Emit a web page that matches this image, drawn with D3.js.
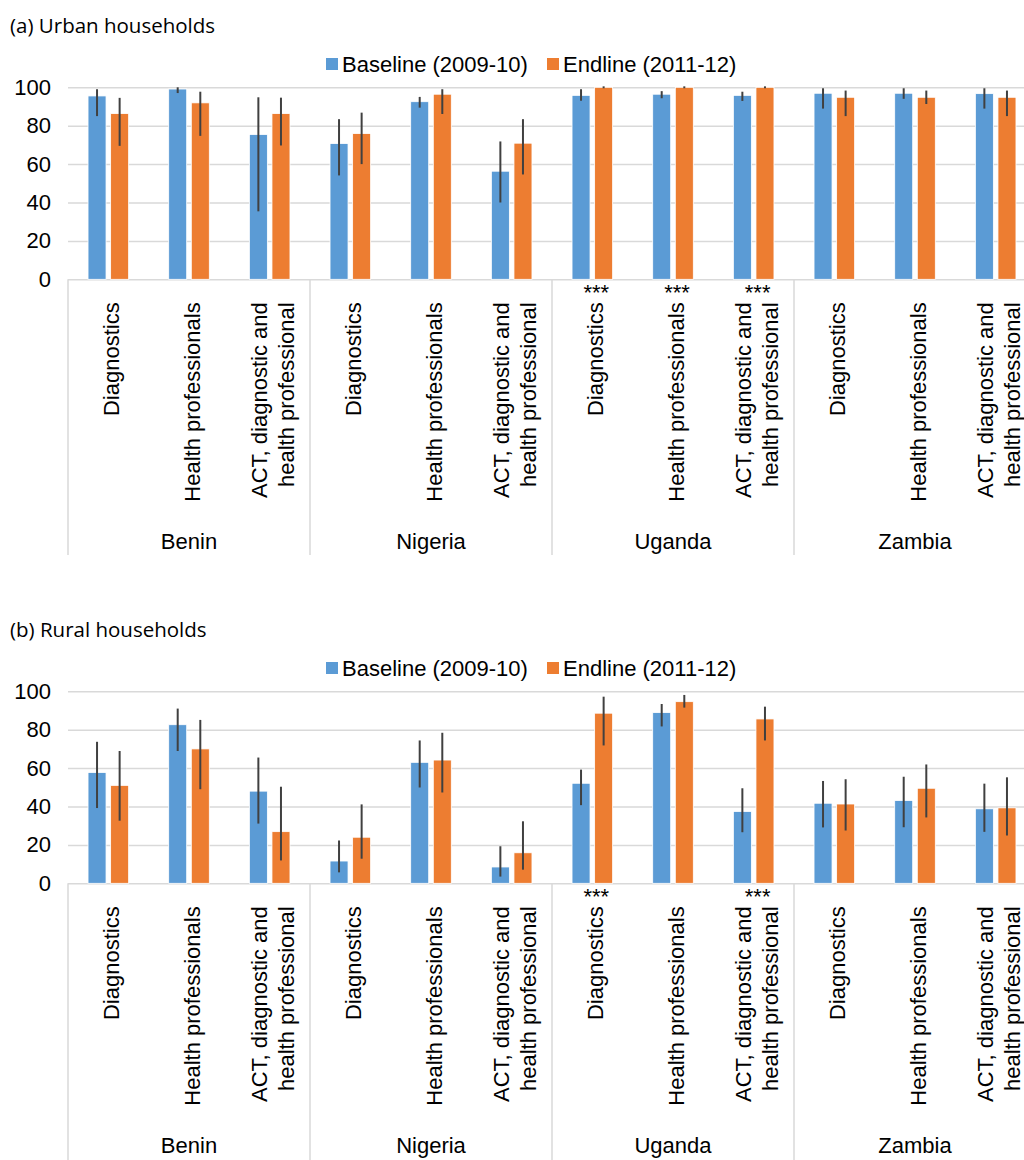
<!DOCTYPE html>
<html>
<head>
<meta charset="utf-8">
<script src="https://cdn.jsdelivr.net/npm/d3@7"></script>
<style>
  body { margin: 0; background: #fff; }
  svg { display: block; font-family: 'Liberation Sans', Arial, sans-serif; }
</style>
</head>
<body>
<svg class="chart"></svg>
<script>
// categories
const countries = ['Benin', 'Nigeria', 'Uganda', 'Zambia'];
const indicators = ['Diagnostics', 'Health professionals', 'ACT, diagnostic and health professional'];
const indicatorLines = [['Diagnostics'], ['Health professionals'], ['ACT, diagnostic and', 'health professional']];
const seriesNames = ['Baseline (2009-10)', 'Endline (2011-12)'];
const yTicks = [0, 20, 40, 60, 80, 100];

// (a) urban households, country x indicator order
const urbanBaseline = [95.5, 99.1, 75.4, 70.7, 92.5, 56.3, 95.8, 96.4, 95.8, 96.9, 96.9, 96.7];
const urbanBaselineCI = [[85, 99], [97, 100], [35.4, 94.8], [54.1, 83.4], [89.4, 95], [40, 71.8],
    [93, 99], [94.3, 98], [92.9, 97.7], [88.9, 99.5], [94, 99.5], [88.9, 99.5]];
const urbanEndline = [86.3, 91.9, 86.3, 75.9, 96.4, 70.9, 100, 100, 100, 94.8, 94.8, 94.8];
const urbanEndlineCI = [[69.5, 94.5], [74.7, 97.7], [69.7, 94.6], [60, 86.8], [86.1, 99], [54.6, 83.4],
    [99.5, 100.5], [99.5, 100.5], [99.5, 100.5], [85, 98.3], [91.3, 98.3], [85, 98.3]];
const urbanSig = ['', '', '', '', '', '', '***', '***', '***', '', '', ''];

// (b) rural households
const ruralBaseline = [57.7, 82.6, 48, 11.6, 63, 8.5, 52.1, 88.9, 37.4, 41.7, 43.1, 38.8];
const ruralBaselineCI = [[39.2, 73.7], [68.9, 91], [31.1, 65.5], [5.7, 22.3], [49.9, 74.4], [3.5, 19.3],
    [40.7, 59.2], [81.7, 93.4], [26.6, 49.5], [29.1, 53.3], [29.2, 55.5], [26.8, 51.9]];
const ruralEndline = [51, 70, 26.9, 24, 64.2, 15.9, 88.6, 94.6, 85.6, 41.3, 49.5, 39.3];
const ruralEndlineCI = [[32.6, 68.9], [49, 85.1], [11.9, 50.3], [12.8, 41.1], [47.3, 78.4], [7.1, 32.3],
    [71.8, 97.2], [91.5, 98.1], [74.4, 92], [27.5, 54.2], [34.3, 61.9], [24.9, 55.2]];
const ruralSig = ['', '', '', '', '', '', '***', '', '***', '', '', ''];

const width = 1024;
const height = 1160;
const colors = ['#5b9bd5', '#ed7d31'];
const gridColor = '#d9d9d9';

const marginLeft = 68;
const plotRight = 1036; // chart runs past the right edge of the picture
const panelShift = 604;

const svg = d3.select('.chart')
    .attr('width', width)
    .attr('height', height)
    .attr('viewBox', [0, 0, width, height]);

// countries, then the three indicators inside each country
const xCountry = d3.scaleBand().domain(countries).range([marginLeft, plotRight]);
const xIndicator = d3.scaleBand().domain(indicators).range([0, xCountry.bandwidth()]);
const y = d3.scaleLinear().domain([0, 100]).range([279.3, 87.3]);

const barWidth = 18;
const barOffset = 11.3;
const catCenter = i => xCountry(countries[Math.floor(i / 3)]) + xIndicator(indicators[i % 3]) + xIndicator.bandwidth() / 2;

function drawPanel(top, title, series, cis, sig, labelBottom, sepBottom) {
    const g = svg.append('g').attr('transform', `translate(0,${top})`);

    g.append('text')
        .attr('x', 10)
        .attr('y', 33)
        .attr('font-family', "'Open Sans', sans-serif")
        .attr('font-size', 20.5)
        .attr('fill', '#000')
        .text(title);

    // legend
    const legend = g.append('g').attr('font-size', 22);
    const legendX = [326, 547];
    seriesNames.forEach((name, k) => {
        legend.append('rect')
            .attr('x', legendX[k]).attr('y', 58)
            .attr('width', 12).attr('height', 12)
            .attr('fill', colors[k]);
        legend.append('text')
            .attr('x', legendX[k] + 16).attr('y', 72)
            .attr('fill', '#000')
            .text(name);
    });

    // y axis with gridlines
    const yAxis = d3.axisLeft(y).tickValues(yTicks).tickSize(0).tickPadding(17);
    g.append('g')
        .attr('transform', `translate(${marginLeft},0)`)
        .call(yAxis)
        .call(a => a.select('.domain').remove())
        .call(a => a.selectAll('.tick text')
            .attr('font-size', 22)
            .attr('font-family', "'Liberation Sans', Arial, sans-serif")
            .attr('fill', '#000'))
        .call(a => a.selectAll('.tick line').clone()
            .attr('x2', width - marginLeft)
            .attr('stroke', gridColor)
            .attr('stroke-width', 1.5));

    // group separators below the axis
    g.append('g')
        .selectAll('line')
        .data(countries)
        .join('line')
            .attr('x1', d => xCountry(d))
            .attr('x2', d => xCountry(d))
            .attr('y1', y(0))
            .attr('y2', sepBottom)
            .attr('stroke', gridColor)
            .attr('stroke-width', 1.5);

    // bars
    series.forEach((values, k) => {
        g.append('g')
            .selectAll('rect')
            .data(values)
            .join('rect')
                .attr('x', (d, i) => catCenter(i) + (k === 0 ? -barOffset : barOffset) - barWidth / 2)
                .attr('y', d => y(d))
                .attr('width', barWidth)
                .attr('height', d => y(0) - y(d))
                .attr('fill', colors[k])
                .attr('stroke', '#fff')
                .attr('stroke-width', 0.8);
    });

    // error bars, no caps
    cis.forEach((ci, k) => {
        g.append('g')
            .selectAll('line')
            .data(ci)
            .join('line')
                .attr('x1', (d, i) => catCenter(i) + (k === 0 ? -barOffset : barOffset))
                .attr('x2', (d, i) => catCenter(i) + (k === 0 ? -barOffset : barOffset))
                .attr('y1', d => y(d[0]))
                .attr('y2', d => y(d[1]))
                .attr('stroke', '#404040')
                .attr('stroke-width', 2);
    });

    // significance stars
    g.append('g')
        .selectAll('text')
        .data(sig)
        .join('text')
            .attr('x', (d, i) => catCenter(i) + 4)
            .attr('y', y(0) + 21)
            .attr('text-anchor', 'middle')
            .attr('font-size', 22)
            .attr('fill', '#000')
            .text(d => d);

    // rotated indicator labels
    const labels = g.append('g')
        .selectAll('g')
        .data(d3.range(countries.length * indicators.length))
        .join('g')
            .attr('transform', i => `translate(${catCenter(i) + 3},${y(0) + 23}) rotate(-90)`);
    labels.selectAll('text')
        .data(i => indicatorLines[i % 3].map((t, j, arr) => ({t, off: (j - (arr.length - 1) / 2) * 27})))
        .join('text')
            .attr('text-anchor', 'end')
            .attr('font-size', 22)
            .attr('fill', '#000')
            .attr('y', d => d.off)
            .attr('dy', '0.35em')
            .text(d => d.t);

    // country labels
    g.append('g')
        .selectAll('text')
        .data(countries)
        .join('text')
            .attr('x', d => xCountry(d) + xCountry.bandwidth() / 2)
            .attr('y', labelBottom)
            .attr('text-anchor', 'middle')
            .attr('font-size', 22)
            .attr('fill', '#000')
            .text(d => d);
}

drawPanel(0, '(a) Urban households', [urbanBaseline, urbanEndline], [urbanBaselineCI, urbanEndlineCI], urbanSig, 549, 555);
drawPanel(panelShift, '(b) Rural households', [ruralBaseline, ruralEndline], [ruralBaselineCI, ruralEndlineCI], ruralSig, 549, 560);
</script>
</body>
</html>
